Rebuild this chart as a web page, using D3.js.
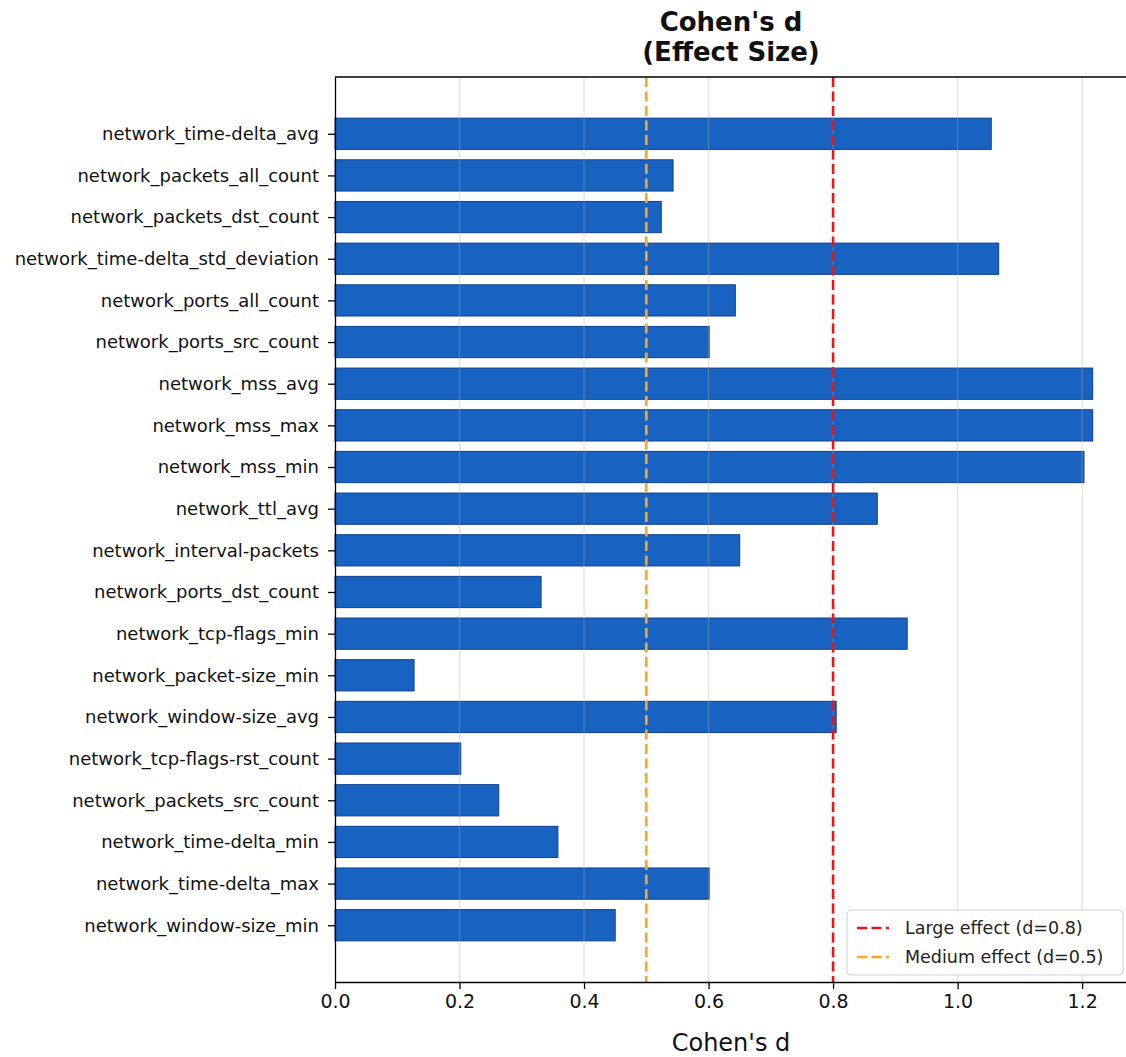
<!DOCTYPE html>
<html>
<head>
<meta charset="utf-8">
<script src="https://cdn.jsdelivr.net/npm/d3@7"></script>
<style>
  body { margin: 0; background: #fff; }
  svg { display: block; font-family: "DejaVu Sans", sans-serif; }
</style>
</head>
<body>
<div id="chart"></div>
<script>
const categories = [
  "network_time-delta_avg",
  "network_packets_all_count",
  "network_packets_dst_count",
  "network_time-delta_std_deviation",
  "network_ports_all_count",
  "network_ports_src_count",
  "network_mss_avg",
  "network_mss_max",
  "network_mss_min",
  "network_ttl_avg",
  "network_interval-packets",
  "network_ports_dst_count",
  "network_tcp-flags_min",
  "network_packet-size_min",
  "network_window-size_avg",
  "network_tcp-flags-rst_count",
  "network_packets_src_count",
  "network_time-delta_min",
  "network_time-delta_max",
  "network_window-size_min"
];
const cohensD = [
  1.054, 0.543, 0.524, 1.066, 0.643, 0.601, 1.217, 1.217, 1.203, 0.871,
  0.650, 0.331, 0.919, 0.127, 0.805, 0.202, 0.263, 0.358, 0.601, 0.450
];
const xTicks = [0.0, 0.2, 0.4, 0.6, 0.8, 1.0, 1.2];
const thresholds = [
  { value: 0.8, label: "Large effect (d=0.8)", color: "#e8161b" },
  { value: 0.5, label: "Medium effect (d=0.5)", color: "#ffa51f" }
];
const titleLines = ["Cohen's d", "(Effect Size)"];
const xLabel = "Cohen's d";

(function () {
const W = 1126, H = 1057;
const mLeft = 335, mTop = 77, mBottom = 982, plotW = 796;

const svg = d3.select("#chart").append("svg").attr("width", W).attr("height", H);

const n = categories.length;
const barH = 0.75;
const pad = (n - 1 + barH) * 0.05;
const x = d3.scaleLinear().domain([0, 1.2785]).range([mLeft, mLeft + plotW]);
const y = d3.scaleLinear().domain([-barH / 2 - pad, n - 1 + barH / 2 + pad]).range([mTop, mBottom]);
const bandPx = y(barH) - y(0);

// bars
svg.append("g").selectAll("rect").data(cohensD).join("rect")
  .attr("x", x(0))
  .attr("y", (d, i) => y(i) - bandPx / 2)
  .attr("width", d => x(d) - x(0))
  .attr("height", bandPx)
  .attr("fill", "#1863c2")
  .attr("stroke", "#0d3f8f")
  .attr("stroke-width", 1);

// grid (on top, faint)
svg.append("g").selectAll("line").data(xTicks.slice(1)).join("line")
  .attr("x1", d => x(d)).attr("x2", d => x(d))
  .attr("y1", mTop).attr("y2", mBottom)
  .attr("stroke", "#b0b0b0").attr("stroke-opacity", 0.35).attr("stroke-width", 1.3);

// threshold lines
svg.append("g").selectAll("line").data(thresholds).join("line")
  .attr("x1", d => x(d.value)).attr("x2", d => x(d.value))
  .attr("y1", mTop).attr("y2", mBottom)
  .attr("stroke", d => d.color).attr("stroke-width", 2.6)
  .attr("stroke-dasharray", "10,4.5");

// axes
const xAxis = d3.axisBottom(x).tickValues(xTicks).tickFormat(d3.format(".1f")).tickSize(7).tickSizeOuter(0);
const gx = svg.append("g").attr("transform", `translate(0,${mBottom})`).call(xAxis);
gx.select(".domain").attr("stroke", "#000").attr("stroke-width", 1.3);
gx.selectAll(".tick line").attr("stroke", "#000").attr("stroke-width", 1.3);
gx.selectAll(".tick text").attr("font-size", 19).attr("fill", "#111").attr("y", 11).attr("dy", "0.8em")
  .attr("font-family", "DejaVu Sans, sans-serif");

const yAxis = d3.axisLeft(y).tickValues(d3.range(n)).tickFormat(i => categories[i]).tickSize(7).tickSizeOuter(0);
const gy = svg.append("g").attr("transform", `translate(${mLeft},0)`).call(yAxis);
gy.select(".domain").attr("stroke", "#000").attr("stroke-width", 1.3);
gy.selectAll(".tick line").attr("stroke", "#000").attr("stroke-width", 1.3);
gy.selectAll(".tick text").attr("font-size", 18).attr("fill", "#111").attr("x", -16)
  .attr("font-family", "DejaVu Sans, sans-serif");

// top spine
svg.append("line").attr("x1", mLeft).attr("x2", W).attr("y1", mTop).attr("y2", mTop)
  .attr("stroke", "#000").attr("stroke-width", 1.3);

// title
const cx = mLeft + plotW / 2 - 2;
svg.append("text").attr("x", cx).attr("y", 31)
  .attr("text-anchor", "middle").attr("font-size", 26).attr("font-weight", "bold").attr("fill", "#111")
  .selectAll("tspan").data(titleLines).join("tspan")
  .attr("x", cx).attr("dy", (d, i) => i ? 30 : 0).text(d => d);

// x label
svg.append("text").attr("x", cx).attr("y", 1051)
  .attr("text-anchor", "middle").attr("font-size", 24).attr("fill", "#111").text(xLabel);

// legend
const lg = svg.append("g").attr("transform", "translate(847,910)");
lg.append("rect").attr("width", 276).attr("height", 65).attr("rx", 4)
  .attr("fill", "#fff").attr("fill-opacity", 0.85).attr("stroke", "#d0d0d0");
thresholds.forEach((t, i) => {
  const yy = 18 + i * 29;
  lg.append("line").attr("x1", 10).attr("x2", 42).attr("y1", yy).attr("y2", yy)
    .attr("stroke", t.color).attr("stroke-width", 2.6).attr("stroke-dasharray", "10,4.5");
  lg.append("text").attr("x", 58).attr("y", yy).attr("dy", "0.35em")
    .attr("font-size", 17.5).attr("fill", "#222").text(t.label);
});
})();
</script>
</body>
</html>
